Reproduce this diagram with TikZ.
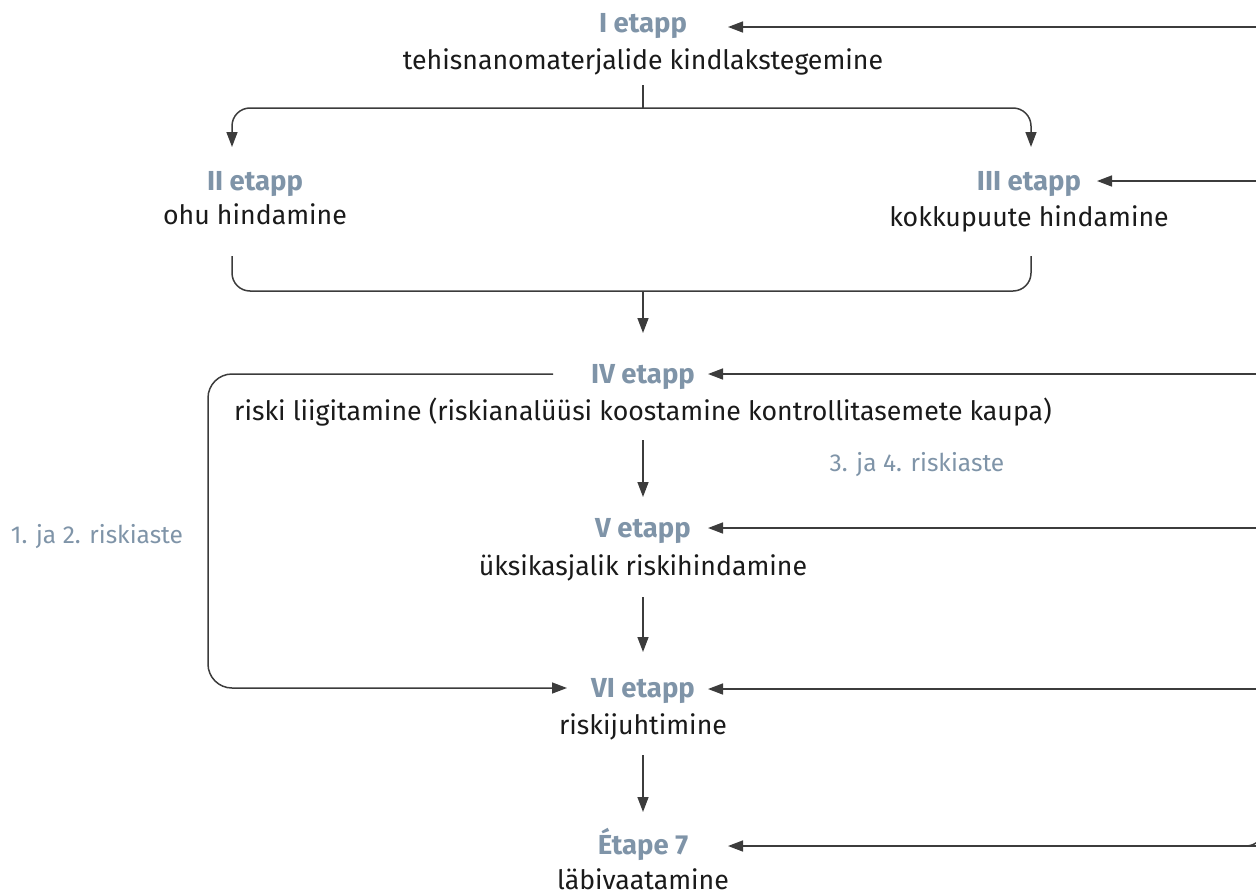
\documentclass[tikz,border=0pt]{standalone}
\usepackage{fontspec}
\setmainfont{Fira Sans}
\usetikzlibrary{arrows.meta}
\definecolor{stagec}{RGB}{127,148,168}
\definecolor{txtc}{RGB}{26,26,26}
\definecolor{linec}{RGB}{60,60,60}
\tikzset{
  stage/.style={text=stagec,font=\fontsize{27.5}{32}\selectfont\bfseries,inner sep=0pt,anchor=base},
  desc/.style={text=txtc,font=\fontsize{26.7}{32}\selectfont,inner sep=0pt,anchor=base},
  note/.style={text=stagec,font=\fontsize{24.5}{28}\selectfont,inner sep=0pt,anchor=base},
  conn/.style={draw=linec,line width=1.5pt,-{Triangle[length=15pt,width=11pt]},rounded corners=18pt},
  plain/.style={draw=linec,line width=1.5pt,rounded corners=18pt},
}
\begin{document}
\begin{tikzpicture}[x=1pt,y=-1pt]
\useasboundingbox (0,0) rectangle (1256,894);
% texts
\node[stage] (s1) at (643,32) {I etapp};
\node[desc] (d1) at (643,69) {tehisnanomaterjalide kindlakstegemine};
\node[stage] (s2) at (255,190) {II etapp};
\node[desc] (d2) at (255,224) {ohu hindamine};
\node[stage] (s3) at (1029,190) {III etapp};
\node[desc] (d3) at (1029,226) {kokkupuute hindamine};
\node[stage] (s4) at (643,383) {IV etapp};
\node[desc] (d4) at (643,420) {riski liigitamine (riskianalüüsi koostamine kontrollitasemete kaupa)};
\node[note] (n34) at (917,471) {3. ja 4. riskiaste};
\node[note] (n12) at (97,543) {1. ja 2. riskiaste};
\node[stage] (s5) at (643,537) {V etapp};
\node[desc] (d5) at (643,575) {üksikasjalik riskihindamine};
\node[stage] (s6) at (643,697) {VI etapp};
\node[desc] (d6) at (643,734) {riskijuhtimine};
\node[stage] (s7) at (643,854) {Étape 7};
\node[desc] (d7) at (643,889) {läbivaatamine};
% coordinates
\coordinate (t1) at (728,27);
\coordinate (t3) at (1097,181);
\coordinate (t4) at (708,374);
\coordinate (t5) at (708,528);
\coordinate (t6) at (708,689);
\coordinate (t7) at (728,846);
\coordinate (rtop) at (1264,27);
\coordinate (rbot) at (1264,846);
% right feedback line
\draw[plain] (rtop) -- (rbot) -- (1250,846);
\draw[conn] (rbot) -- (t7);
\draw[conn] (rtop) -- (t1);
\draw[conn] (1264,181) -- (t3);
\draw[conn] (1264,374) -- (t4);
\draw[conn] (1264,528) -- (t5);
\draw[conn] (1264,689) -- (t6);
% top fork
\coordinate (f1) at (643,85);
\coordinate (a2) at (232,147);
\coordinate (a3) at (1031,147);
\draw[plain] (f1) -- (643,108);
\draw[conn] (643,108) -- (232,108) -- (a2);
\draw[conn] (643,108) -- (1031,108) -- (a3);
% join
\coordinate (j2) at (232,256);
\coordinate (j3) at (1031,256);
\draw[plain] (j2) -- (232,291) -- (1031,291) -- (j3);
\coordinate (a4a) at (643,291);
\coordinate (a4) at (643,333);
\draw[conn] (a4a) -- (a4);
% IV -> V
\draw[conn] (643,440) -- (643,497);
% V -> VI
\draw[conn] (643,597) -- (643,652);
% VI -> 7
\draw[conn] (643,755) -- (643,812);
% left bypass
\coordinate (l1) at (553,374);
\coordinate (l2) at (567,688);
\draw[conn,rounded corners=24pt] (l1) -- (208,374) -- (208,688) -- (l2);
\end{tikzpicture}
\end{document}
